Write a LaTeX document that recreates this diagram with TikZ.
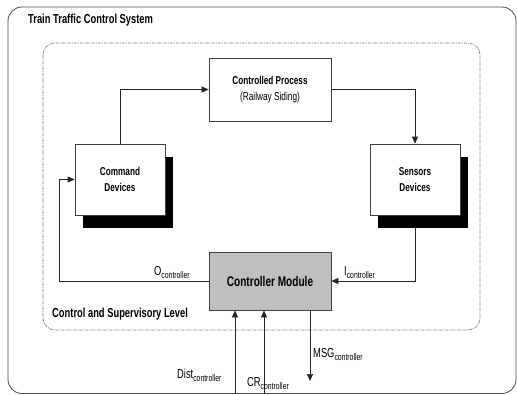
\documentclass[tikz,border=0pt]{standalone}
\usepackage{fontspec}
\setmainfont{Liberation Sans}[FakeStretch=0.72]
\usetikzlibrary{arrows.meta,shadows}
\newcommand\ctlsub[1]{\raisebox{-3pt}{\fontsize{9.5}{9.5}\selectfont #1}}
\begin{document}
\begin{tikzpicture}[x=1pt,y=-1pt,
  frame/.style={draw=black!70, line width=0.8pt, rounded corners=14pt},
  level/.style={draw=black!50, line width=0.7pt, rounded corners=12pt,
    dash pattern=on 3pt off 1pt on 1pt off 1pt},
  box/.style={draw=black!75, fill=white, line width=0.7pt, align=center,
    inner sep=0pt, font=\fontsize{11.4}{16}\selectfont\bfseries},
  shadowed/.style={general shadow={fill=black, shadow xshift=8pt, shadow yshift=-13pt}},
  ctrl/.style={box, fill=black!25, font=\fontsize{14}{16}\selectfont\bfseries},
  flow/.style={draw=black!85, line width=0.7pt, -{Triangle[length=7pt,width=6pt]}},
  heading/.style={anchor=base west, inner sep=0pt, font=\fontsize{13}{15}\selectfont\bfseries},
  sig/.style={anchor=base west, inner sep=0pt, font=\fontsize{13}{15}\selectfont}
]
\useasboundingbox (0,0) rectangle (517,394);

% system boundary and supervisory level
\draw[frame] (8,7) rectangle (516,393.5);
\node[heading] (title) at (28,23) {Train Traffic Control System};
\draw[level] (43,43) rectangle (480,330);
\node[heading] (levellbl) at (52,317) {Control and Supervisory Level};

% blocks
\node[box, minimum width=122pt, minimum height=63pt] (proc) at (270,89.5)
  {Controlled Process\\{\mdseries\fontsize{11.5}{16}\selectfont (Railway Siding)}};
\node[box, shadowed, minimum width=90pt, minimum height=71pt] (cmd) at (120,179.5)
  {Command\\Devices};
\node[box, shadowed, minimum width=90pt, minimum height=71pt] (sens) at (415,179.5)
  {Sensors\\Devices};
\node[ctrl, minimum width=122pt, minimum height=58pt] (ctl) at (270,281)
  {Controller Module};

% control loop
\draw[flow] (cmd.north) |- (proc.west);
\draw[flow] (proc.east) -| (sens.north);
\draw[flow] (sens.south) ++(0,13) |- (ctl.east);
\coordinate (oturn) at (59,281);
\draw[flow] (ctl.west) -- (oturn) |- (cmd.west);

% external signals
\coordinate (distin) at (235,394);
\coordinate (crin) at (264,394);
\coordinate (msgout) at (310,381);
\draw[flow] (distin) -- (distin |- ctl.south);
\draw[flow] (crin) -- (crin |- ctl.south);
\draw[flow] (msgout |- ctl.south) -- (msgout);

% signal labels
\node[sig] (olbl) at (154,275) {O\ctlsub{controller}};
\node[sig] (ilbl) at (344,275) {I\ctlsub{controller}};
\node[sig] (distlbl) at (177,378) {Dist\ctlsub{controller}};
\node[sig] (crlbl) at (247,386) {CR\ctlsub{controller}};
\node[sig] (msglbl) at (313,357) {MSG\ctlsub{controller}};
\end{tikzpicture}
\end{document}
